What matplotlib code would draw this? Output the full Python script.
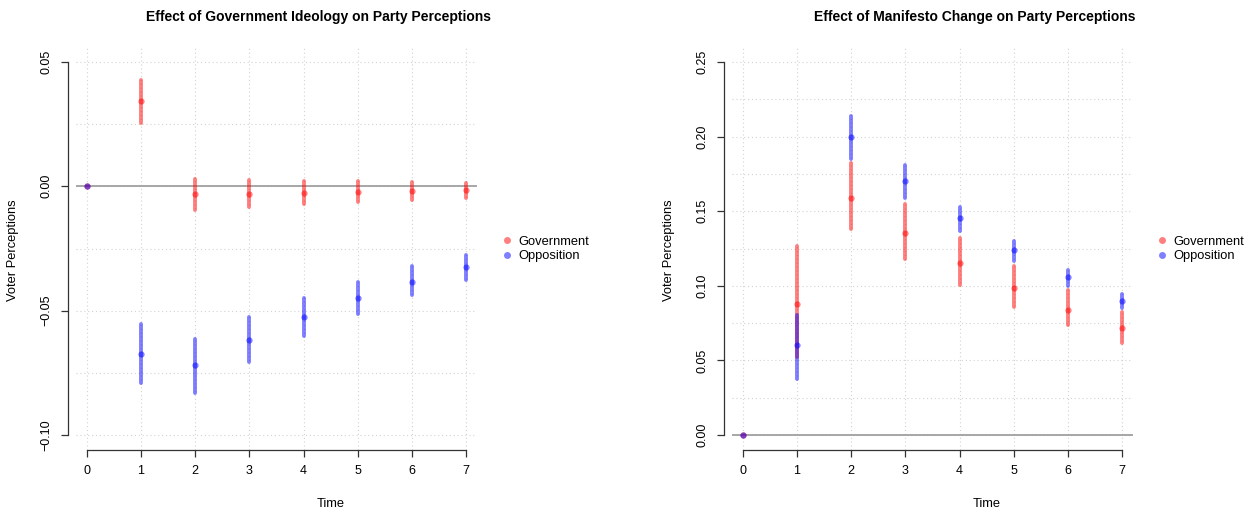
import matplotlib
matplotlib.use("Agg")
import matplotlib.pyplot as plt
from matplotlib.lines import Line2D

plt.rcParams["font.family"] = ["Liberation Sans", "DejaVu Sans"]

time = [0, 1, 2, 3, 4, 5, 6, 7]

# effect of government ideology
ideo_gov = [0.0, 0.0344, -0.0032, -0.0029, -0.0025, -0.0021, -0.0017, -0.0016]
ideo_gov_lo = [0.0, 0.0254, -0.0096, -0.0083, -0.0073, -0.0063, -0.0055, -0.0047]
ideo_gov_hi = [0.0, 0.0428, 0.0031, 0.0027, 0.0023, 0.0020, 0.0017, 0.0015]
ideo_opp = [0.0, -0.0673, -0.0720, -0.0616, -0.0525, -0.0447, -0.0384, -0.0325]
ideo_opp_lo = [0.0, -0.0791, -0.0830, -0.0706, -0.0602, -0.0514, -0.0438, -0.0378]
ideo_opp_hi = [0.0, -0.0553, -0.0614, -0.0527, -0.0450, -0.0385, -0.0321, -0.0277]

# effect of manifesto change
mani_gov = [0.0, 0.0875, 0.1590, 0.1357, 0.1156, 0.0986, 0.0841, 0.0716]
mani_gov_lo = [0.0, 0.0520, 0.1379, 0.1178, 0.1004, 0.0859, 0.0736, 0.0620]
mani_gov_hi = [0.0, 0.1265, 0.1825, 0.1551, 0.1323, 0.1131, 0.0971, 0.0825]
mani_opp = [0.0, 0.0604, 0.1997, 0.1702, 0.1452, 0.1240, 0.1058, 0.0899]
mani_opp_lo = [0.0, 0.0375, 0.1852, 0.1591, 0.1365, 0.1167, 0.0999, 0.0850]
mani_opp_hi = [0.0, 0.0803, 0.2137, 0.1807, 0.1528, 0.1301, 0.1109, 0.0948]

ideo_ticks = [-0.10, -0.05, 0.00, 0.05]
ideo_grid = [-0.10, -0.075, -0.05, -0.025, 0.0, 0.025, 0.05]
mani_ticks = [0.00, 0.05, 0.10, 0.15, 0.20, 0.25]
mani_grid = [0.0, 0.025, 0.05, 0.075, 0.10, 0.125, 0.15, 0.175, 0.20, 0.225, 0.25]

W, H = 1255, 512
RED = (1, 0, 0, 0.5)
BLUE = (0, 0, 1, 0.5)
TICK_FS = 9.0
LAB_FS = 9.3


def px(x, y):
    return x / W, 1 - y / H


def draw_panel(ax, gov, gov_lo, gov_hi, opp, opp_lo, opp_hi, ticks, grid, ylim):
    ax.set_xlim(-0.2, 7.2)
    ax.set_ylim(*ylim)
    for t in time:
        ax.axvline(t, color="#D3D3D3", lw=0.8, ls=(0, (1, 2.5)), zorder=0)
    for g in grid:
        ax.axhline(g, color="#D3D3D3", lw=0.8, ls=(0, (1, 2.5)), zorder=0)
    ax.axhline(0, color="#A0A0A0", lw=1.3, zorder=1)

    ax.vlines(time, gov_lo, gov_hi, color=RED, lw=2.8, zorder=2,
              capstyle="round")
    ax.plot(time, gov, "o", color=RED, ms=4.5, mew=0, zorder=3)
    ax.vlines(time, opp_lo, opp_hi, color=BLUE, lw=2.8, zorder=4,
              capstyle="round")
    ax.plot(time, opp, "o", color=BLUE, ms=4.5, mew=0, zorder=5)

    ax.spines["top"].set_visible(False)
    ax.spines["right"].set_visible(False)
    ax.spines["left"].set_position(("outward", 5.8))
    ax.spines["left"].set_bounds(ticks[0], ticks[-1])
    ax.spines["bottom"].set_bounds(0, 7)
    for s in ("left", "bottom"):
        ax.spines[s].set_color("#333333")
        ax.spines[s].set_linewidth(0.9)

    ax.set_xticks(time)
    ax.set_xticklabels([str(t) for t in time])
    ax.set_yticks(ticks)
    ax.set_yticklabels([("%.2f" % v).replace("-", "\u2212") for v in ticks],
                       rotation=90, va="center")
    ax.tick_params(axis="both", length=5, width=0.9, color="#333333",
                   labelsize=TICK_FS, pad=6)


fig = plt.figure(figsize=(W / 100, H / 100), dpi=100)
ax1 = fig.add_axes([76 / W, 62 / H, 401 / W, 403 / H])
ax2 = fig.add_axes([732 / W, 62 / H, 401 / W, 403 / H])

draw_panel(ax1, ideo_gov, ideo_gov_lo, ideo_gov_hi, ideo_opp, ideo_opp_lo,
           ideo_opp_hi, ideo_ticks, ideo_grid, (-0.106, 0.056))
draw_panel(ax2, mani_gov, mani_gov_lo, mani_gov_hi, mani_opp, mani_opp_lo,
           mani_opp_hi, mani_ticks, mani_grid, (-0.01, 0.26))

titles = ["Effect of Government Ideology on Party Perceptions",
          "Effect of Manifesto Change on Party Perceptions"]
title_x = [318, 975]
time_x = [331, 987]
ylab_x = [13, 669]
legend_x = [502, 1157]

handles = [
    Line2D([], [], ls="", marker="o", color=RED, ms=5, mew=0, label="Government"),
    Line2D([], [], ls="", marker="o", color=BLUE, ms=5, mew=0, label="Opposition"),
]

for i in range(2):
    fig.text(*px(title_x[i], 17), titles[i], ha="center", va="center",
             fontsize=10, fontweight="bold")
    fig.text(*px(time_x[i], 504), "Time", ha="center", va="center",
             fontsize=LAB_FS)
    fig.text(*px(ylab_x[i], 250), "Voter Perceptions", ha="center",
             va="center", rotation=90, fontsize=LAB_FS)
    fig.legend(handles=handles, loc="center left",
               bbox_to_anchor=px(legend_x[i], 249), frameon=False,
               fontsize=LAB_FS, borderpad=0, borderaxespad=0,
               handlelength=0.8, handletextpad=0.45, labelspacing=0.2)

fig.savefig("out.png", dpi=100)
